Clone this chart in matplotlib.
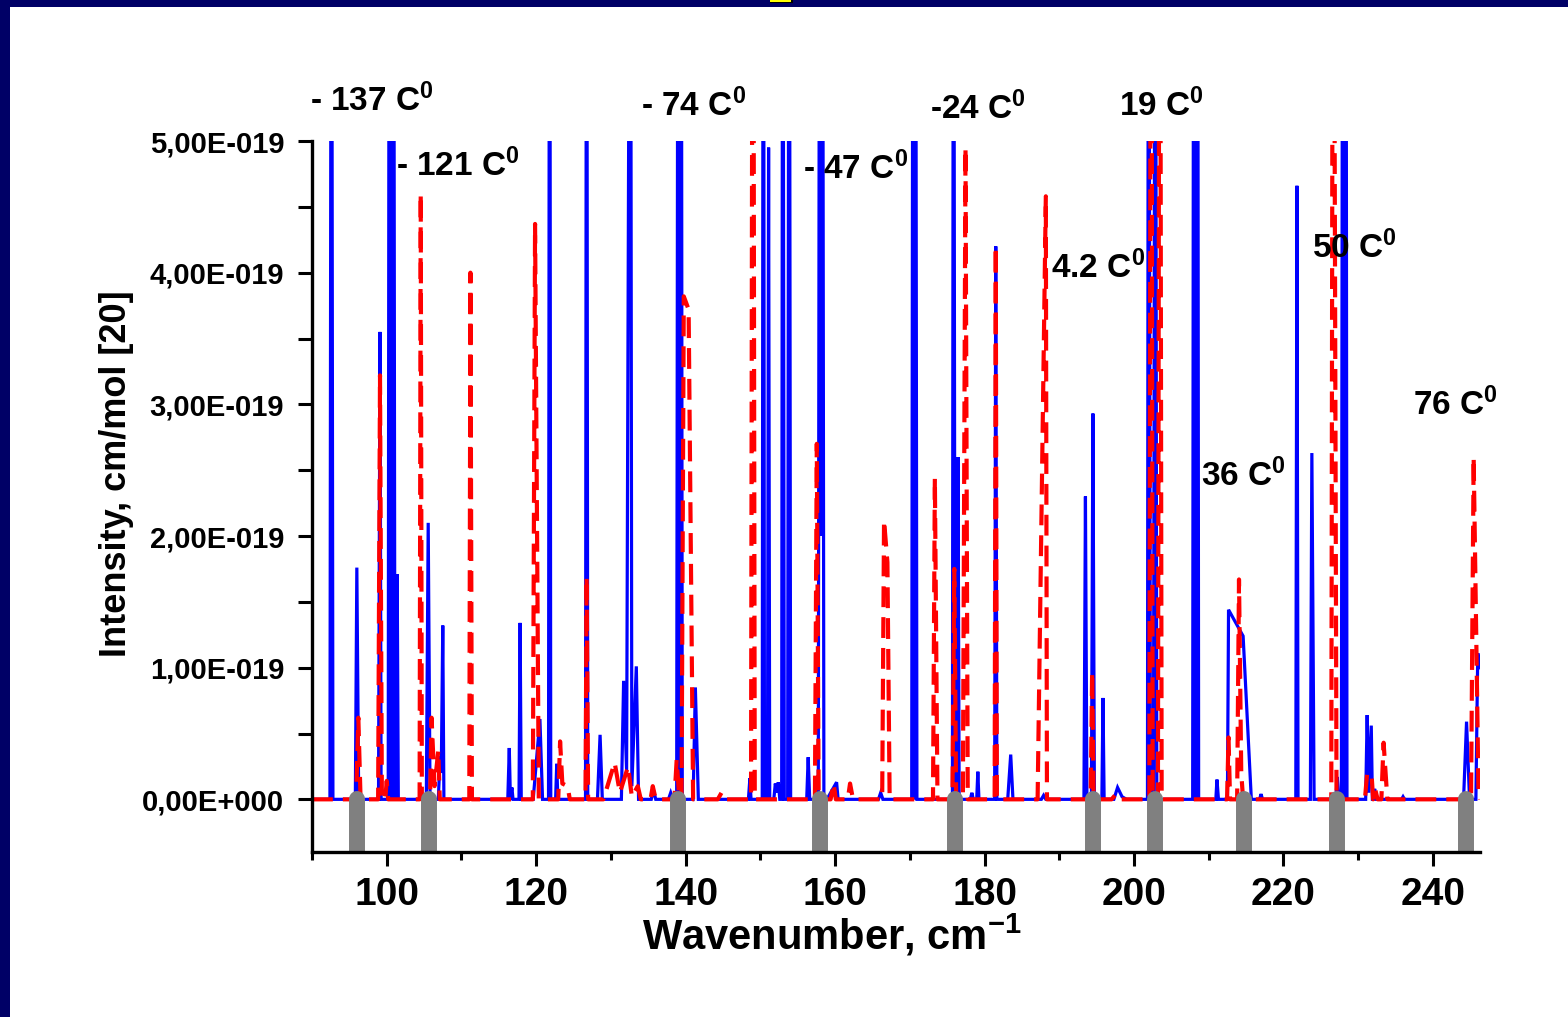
import matplotlib
matplotlib.use("Agg")
import matplotlib.pyplot as plt
from matplotlib.ticker import FixedLocator, FuncFormatter
from matplotlib.patches import Rectangle

plt.rcParams['font.family'] = 'Liberation Sans'
plt.rcParams['font.weight'] = 'bold'
plt.rcParams['mathtext.fontset'] = 'custom'
for key in ('rm', 'it', 'bf', 'sf'):
    plt.rcParams['mathtext.' + key] = 'Liberation Sans:bold'

# ---- spectra (intensity in units of 1e-19 cm/mol) ----
blue_wn = [90.0, 92.4, 92.6, 92.8, 95.8, 96.0, 96.25, 98.9, 99.1, 99.25,
           100.2, 100.35, 100.55, 100.75, 100.9, 101.1, 101.25, 101.4, 101.55,
           105.3, 105.55, 105.8, 106.9, 107.15, 107.3, 107.5, 107.65,
           116.2, 116.4, 116.55, 116.75, 116.9, 117.7, 117.85, 118.0,
           119.6, 120.5, 120.85, 121.65, 121.8, 121.95, 122.6, 122.75, 122.9,
           126.6, 126.75, 126.9, 128.2, 128.55, 128.85,
           131.4, 131.7, 132.1, 132.6, 132.8, 133.4, 133.7,
           135.4, 135.7, 136.0, 137.7, 138.0, 138.3,
           138.8, 139.0, 139.15, 139.25, 139.4, 139.55, 141.0, 141.3, 141.7,
           148.4, 148.6, 148.75, 150.25, 150.4, 150.55, 150.95, 151.1, 151.25,
           151.8, 152.0, 152.2, 152.4, 152.6, 152.85, 153.0, 153.2,
           153.65, 153.85, 154.05, 156.2, 156.4, 156.6,
           157.75, 157.95, 158.1, 158.3, 158.5, 158.9, 160.2, 160.4,
           165.8, 166.1, 166.4, 170.25, 170.45, 170.65, 170.75, 170.95,
           175.7, 175.85, 176.05, 176.3, 176.45, 176.6,
           178.1, 178.3, 178.5, 178.95, 179.1, 179.25,
           181.35, 181.5, 181.65, 183.1, 183.5, 183.8, 187.6, 187.9, 188.2,
           193.3, 193.5, 193.7, 194.3, 194.5, 194.7, 195.7, 195.85, 196.0,
           197.3, 197.8, 198.4, 199.0,
           201.8, 201.95, 202.2, 202.6, 202.85, 203.05,
           207.85, 208.0, 208.2, 208.35, 208.5, 208.65,
           210.95, 211.1, 211.3, 212.5, 212.65, 214.6, 215.7,
           216.8, 217.0, 217.2, 221.65, 221.8, 221.95, 223.6, 223.8, 224.1,
           227.0, 227.2, 227.4, 227.75, 227.95, 228.15, 228.2, 228.35, 228.5,
           231.0, 231.2, 231.4, 231.75, 231.9, 232.0, 232.2, 232.4,
           235.8, 236.0, 236.2, 244.1, 244.5, 244.9, 245.75, 246.0, 246.3]
blue_int = [0, 0, 9, 0, 0, 1.76, 0, 0, 3.55, 0,
            0, 9, 0, 0, 9, 0, 0, 1.71, 0,
            0, 2.10, 0, 0, 0.33, 0.2, 1.32, 0,
            0, 0.39, 0, 0.09, 0, 0, 1.34, 0,
            0, 0.61, 0, 0, 9, 0, 0, 0.27, 0,
            0, 9, 0, 0, 0.49, 0,
            0, 0.90, 0.22, 9, 0.1, 1.01, 0,
            0, 0.07, 0, 0, 0.05, 0,
            0, 9, 0, 0, 9, 0, 0, 0.85, 0,
            0, 0.16, 0, 0, 9, 0, 0, 4.95, 0,
            0, 0.12, 0.05, 0.13, 0, 0, 9, 0,
            0, 9, 0, 0, 0.32, 0,
            0, 9, 2.0, 9, 0, 0, 0.13, 0,
            0, 0.05, 0, 0, 9, 0, 9, 0,
            0, 9, 0, 0, 2.6, 0,
            0, 0.05, 0, 0, 0.21, 0,
            0, 4.20, 0, 0, 0.34, 0, 0, 0.03, 0,
            0, 2.30, 0, 0, 2.93, 0, 0, 0.77, 0,
            0, 0.09, 0.02, 0,
            0, 9, 0, 0, 9, 0,
            0, 9, 0, 0, 9, 0,
            0, 0.15, 0, 0, 1.44, 1.24, 0,
            0, 0.04, 0, 0, 4.66, 0, 0, 2.63, 0,
            0, 0.17, 0, 0, 9, 0, 0, 9, 0,
            0, 0.64, 0.05, 0.56, 0, 0, 0.08, 0,
            0, 0.02, 0, 0, 0.59, 0, 0, 1.11, 1.0]

red_wn = [90.0, 95.9, 96.2, 96.5, 98.85, 99.1, 99.35, 99.8, 100.0, 100.2,
          104.4, 104.55, 104.7, 105.8, 106.0, 106.4, 106.9, 107.1,
          111.05, 111.2, 111.4, 119.55, 119.85, 120.35,
          122.95, 123.2, 123.5, 124.2, 124.5, 126.6, 126.75, 126.95,
          129.0, 130.5, 131.2, 132.3, 132.8, 133.6, 134.0, 135.3, 135.6, 136.0,
          138.5, 138.8, 139.1, 139.45, 139.75, 140.4, 141.0,
          144.3, 144.8, 145.2, 148.75, 149.0, 149.25,
          157.3, 157.55, 157.8, 159.4, 159.8, 160.1, 161.7, 162.0, 162.4,
          166.3, 166.55, 167.0, 167.3, 173.1, 173.35, 173.7,
          175.7, 175.95, 176.2, 177.1, 177.45, 177.75,
          181.35, 181.5, 181.65, 187.1, 188.2, 188.35,
          194.2, 194.4, 194.6, 197.0, 197.6, 198.2,
          202.05, 202.3, 202.5, 203.2, 203.45, 203.7,
          212.45, 212.65, 212.85, 213.8, 214.05, 214.35, 214.6,
          226.4, 226.65, 227.1,
          230.9, 231.2, 231.8, 232.0, 232.3, 232.6, 233.1, 233.4, 233.9,
          245.1, 245.45, 246.1, 246.3]
red_int = [0, 0, 0.62, 0, 0, 3.22, 0, 0, 0.14, 0,
           0, 4.60, 0, 0, 0.62, 0.1, 0.37, 0,
           0, 4.0, 0, 0, 4.37, 0,
           0, 0.44, 0.12, 0.1, 0, 0, 1.69, 0,
           0, 0.28, 0.05, 0.25, 0.02, 0.1, 0, 0, 0.1, 0,
           0, 0.30, 0.05, 0, 3.82, 3.72, 0,
           0, 0.05, 0, 0, 9, 0,
           0, 2.70, 0, 0, 0.12, 0, 0, 0.12, 0,
           0, 2.12, 1.8, 0, 0, 2.44, 0,
           0, 1.75, 0, 0, 4.95, 0,
           0, 4.20, 0, 0, 4.58, 0,
           0, 0.97, 0, 0, 0.04, 0,
           0, 9, 0, 0, 9, 0,
           0, 0.47, 0, 0, 1.67, 0.2, 0,
           0, 9, 0,
           0, 0.2, 0.18, 0, 0.07, 0, 0, 0.43, 0,
           0, 2.60, 0.05, 0]

# band positions marked below the baseline
band_wn = [96.0, 105.6, 139.0, 158.0, 176.1, 194.5, 202.8, 214.7, 227.2, 244.4]

# temperature labels: (text, wavenumber, intensity in 1e-19)
temp_text = ['- 137 C$^{0}$', '- 121 C$^{0}$', '- 74 C$^{0}$', '- 47 C$^{0}$',
             '-24 C$^{0}$', '19 C$^{0}$', '4.2 C$^{0}$', '50 C$^{0}$',
             '36 C$^{0}$', '76 C$^{0}$']
temp_wn = [89.75, 101.25, 134.05, 155.75, 172.75, 198.05, 188.9, 223.8, 208.9, 237.4]
temp_int = [5.23, 4.73, 5.19, 4.71, 5.17, 5.19, 3.96, 4.11, 2.38, 2.92]

x_major = [100, 120, 140, 160, 180, 200, 220, 240]
x_minor = [90, 110, 130, 150, 170, 190, 210, 230]
y_major = [0, 1, 2, 3, 4, 5]
y_minor = [0.5, 1.5, 2.5, 3.5, 4.5]

E19 = 1e-19

fig = plt.figure(figsize=(15.68, 10.17), dpi=100)
fig.patch.set_facecolor('white')
ax = fig.add_axes([312 / 1568, 1 - 852 / 1017, 1168 / 1568, 711 / 1017])

ax.plot(blue_wn, [v * E19 for v in blue_int], color='#0000ff', lw=2.3,
        solid_joinstyle='miter', zorder=2)
ax.plot(red_wn, [v * E19 for v in red_int], color='#ff0000', lw=3.0,
        dashes=(5.0, 2.4), zorder=3)

for w in band_wn:
    ax.plot([w, w], [-1.0 * E19, 0], color='#808080', lw=11.5,
            solid_capstyle='round', zorder=4)

for t, w, v in zip(temp_text, temp_wn, temp_int):
    ax.text(w, v * E19, t, fontsize=24, fontweight='bold', ha='left',
            va='baseline', color='black')

ax.set_xlim(90, 246.3)
ax.set_ylim(-0.4 * E19, 5 * E19)

ax.xaxis.set_major_locator(FixedLocator(x_major))
ax.xaxis.set_minor_locator(FixedLocator(x_minor))
ax.yaxis.set_major_locator(FixedLocator([v * E19 for v in y_major]))
ax.yaxis.set_minor_locator(FixedLocator([v * E19 for v in y_minor]))


def sci_label(val, pos):
    mant, exp = f"{val:.2E}".split('E')
    if abs(val) < 1e-30:
        mant, exp = '0.00', '+0'
    sign = '-' if exp.startswith('-') else '+'
    return f"{mant.replace('.', ',')}E{sign}{abs(int(exp)):03d}"


ax.yaxis.set_major_formatter(FuncFormatter(sci_label))

for side in ('top', 'right'):
    ax.spines[side].set_visible(False)
for side in ('left', 'bottom'):
    ax.spines[side].set_linewidth(2.4)
    ax.spines[side].set_zorder(5)

ax.tick_params(axis='x', which='major', direction='out', length=10, width=2.2,
               labelsize=28, pad=8)
ax.tick_params(axis='x', which='minor', direction='out', length=6, width=2.2)
ax.tick_params(axis='y', which='major', direction='out', length=10, width=2.2,
               labelsize=21, pad=10)
ax.tick_params(axis='y', which='minor', direction='out', length=10, width=2.2)
for lab in ax.get_xticklabels() + ax.get_yticklabels():
    lab.set_fontweight('bold')

ax.set_xlabel('Wavenumber, cm$^{-1}$', fontsize=30, fontweight='bold')
ax.xaxis.set_label_coords(0.445, -0.085)
ax.set_ylabel('Intensity, cm/mol [20]', fontsize=26, fontweight='bold')
ax.yaxis.set_label_coords(-0.152, 0.532)

# slide frame
fig.patches.append(Rectangle((0, 0), 10 / 1568, 1, transform=fig.transFigure,
                             facecolor='#000066', edgecolor='none', zorder=0))
fig.patches.append(Rectangle((0, 1 - 7 / 1017), 1, 7 / 1017, transform=fig.transFigure,
                             facecolor='#000066', edgecolor='none', zorder=0))
fig.patches.append(Rectangle((770 / 1568, 1 - 3 / 1017), 23 / 1568, 3 / 1017,
                             transform=fig.transFigure, facecolor='black',
                             edgecolor='none', zorder=1))
fig.patches.append(Rectangle((770 / 1568, 1 - 2 / 1017), 21 / 1568, 2 / 1017,
                             transform=fig.transFigure, facecolor='#ffff00',
                             edgecolor='none', zorder=2))

fig.savefig('out.png', dpi=100, facecolor='white')
